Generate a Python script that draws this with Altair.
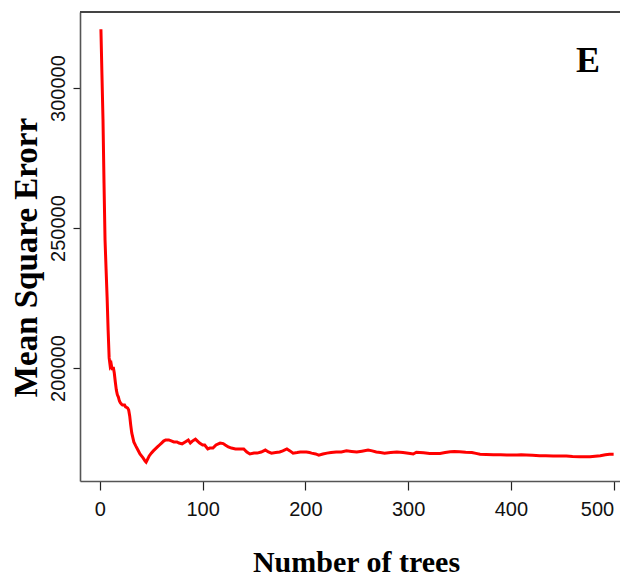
import altair as alt
import pandas as pd

trees = [1, 2, 3, 4, 5, 6, 7, 8, 9, 10, 11, 12, 13, 14, 15, 16, 17, 18, 19, 20,
         21, 22, 24, 25, 27, 28, 29, 30, 31, 33, 35, 37, 39, 42, 44, 45, 46, 48, 50,
         52, 54, 56, 58, 60, 62, 64, 67, 70, 72, 75, 77, 80, 83, 86, 88, 90, 93, 95,
         97, 100, 102, 105, 107, 110, 113, 117, 120, 122, 125, 128, 132, 136, 140,
         143, 146, 150, 153, 157, 161, 164, 167, 171, 175, 178, 182, 185, 188, 192,
         195, 198, 201, 204, 206, 210, 213, 217, 221, 225, 230, 235, 240, 245, 250,
         255, 261, 265, 269, 273, 277, 283, 289, 295, 302, 305, 308, 315, 321, 326,
         331, 336, 341, 345, 350, 356, 362, 366, 370, 376, 383, 390, 396, 401, 406,
         410, 415, 421, 428, 434, 441, 447, 454, 460, 467, 472, 477, 482, 487, 492,
         496, 500]

mse = [321000, 304600, 288900, 266100, 245700, 235400, 225400, 213600, 203600, 200700,
       201400, 199300, 200400, 198200, 195000, 192100, 190400, 189600, 188200, 187500,
       187100, 186800, 186800, 186100, 185700, 185000, 182900, 179600, 176800, 173600,
       172100, 170700, 169300, 167900, 166800, 166400, 167100, 168600, 169600,
       170400, 171100, 171800, 172500, 173200, 173900, 174300, 174300, 173900, 173600,
       173600, 173200, 172900, 173600, 174300, 173200, 173900, 174600, 173900,
       173200, 172500, 172500, 171100, 171400, 171400, 172500, 173200, 173000, 172500,
       171800, 171400, 171100, 171100, 171100,
       170000, 169300, 169600, 169600, 170000, 170700, 170000, 169600, 169800, 170000,
       170400, 171100, 170400, 169600, 169800,
       170000, 170000, 170000, 169800, 169600, 169300, 168900, 169300, 169600, 169800,
       170000, 170000, 170400, 170200, 170000,
       170300, 170700, 170400, 170000, 169800, 169600, 169800, 170000, 169800, 169500,
       169300, 169900, 169700, 169500, 169500,
       169500, 169800, 170100, 170200, 170100, 169900, 169800, 169500, 169200, 169100,
       169000, 169000, 168900, 168900, 168900,
       169000, 168900, 168800, 168700, 168700, 168600, 168600, 168600, 168400, 168300,
       168300, 168300, 168500, 168700, 169000,
       169200, 169200]

x_ticks = [0, 100, 200, 300, 400, 500]
y_ticks = [200000, 250000, 300000]
panel_label = ["E"]

df = pd.DataFrame({"trees": trees, "mse": mse})

W, H = 540, 469

line = alt.Chart(df).mark_line(color="#ff0000", strokeWidth=3).encode(
    x=alt.X("trees:Q",
            scale=alt.Scale(domain=[-19.37, 506.2], nice=False, zero=False),
            axis=alt.Axis(values=x_ticks, format="d", title="Number of trees",
                          grid=False, tickSize=9, tickColor="#222", tickWidth=1.2,
                          domainColor="#555", domainWidth=1.6,
                          labelFont="Liberation Sans", labelFontSize=20,
                          labelColor="#111", labelPadding=9,
                          labelBaseline="top", labelFlush=10,
                          titleFont="Liberation Serif", titleFontSize=30,
                          titleFontWeight="bold", titleColor="#000",
                          titleX=276, titleY=90, titleBaseline="alphabetic",
                          titleAlign="center")),
    y=alt.Y("mse:Q",
            scale=alt.Scale(domain=[159643, 327143], nice=False, zero=False),
            axis=alt.Axis(values=y_ticks, format="d", title="Mean Square Erorr",
                          grid=False, tickSize=7, tickColor="#222", tickWidth=1.2,
                          domainColor="#555", domainWidth=1.6,
                          labelFont="Liberation Sans", labelFontSize=20,
                          labelColor="#111", labelPadding=9, labelAngle=-90,
                          labelAlign="center", labelBaseline="alphabetic",
                          titleFont="Liberation Serif", titleFontSize=33,
                          titleFontWeight="bold", titleColor="#000",
                          titleX=-44, titleY=245, titleBaseline="alphabetic",
                          titleAlign="center", titleAngle=270)),
)

top_border = alt.Chart(df).mark_rule(color="#444", strokeWidth=1.6).encode(
    x=alt.value(0), x2=alt.value(W), y=alt.value(0)
)

label = alt.Chart(pd.DataFrame({"t": panel_label})).mark_text(
    font="Liberation Serif", fontSize=36, fontWeight="bold", color="#000",
    align="center", baseline="alphabetic"
).encode(x=alt.value(508), y=alt.value(60), text="t:N")

chart = alt.layer(line, top_border, label).properties(
    width=W, height=H,
    autosize=alt.AutoSizeParams(type="none"),
    padding={"left": 72, "top": 4, "right": 0, "bottom": 110},
).configure_view(stroke="transparent")

chart.save("out.html", embed_options={"renderer": "svg", "actions": False})
